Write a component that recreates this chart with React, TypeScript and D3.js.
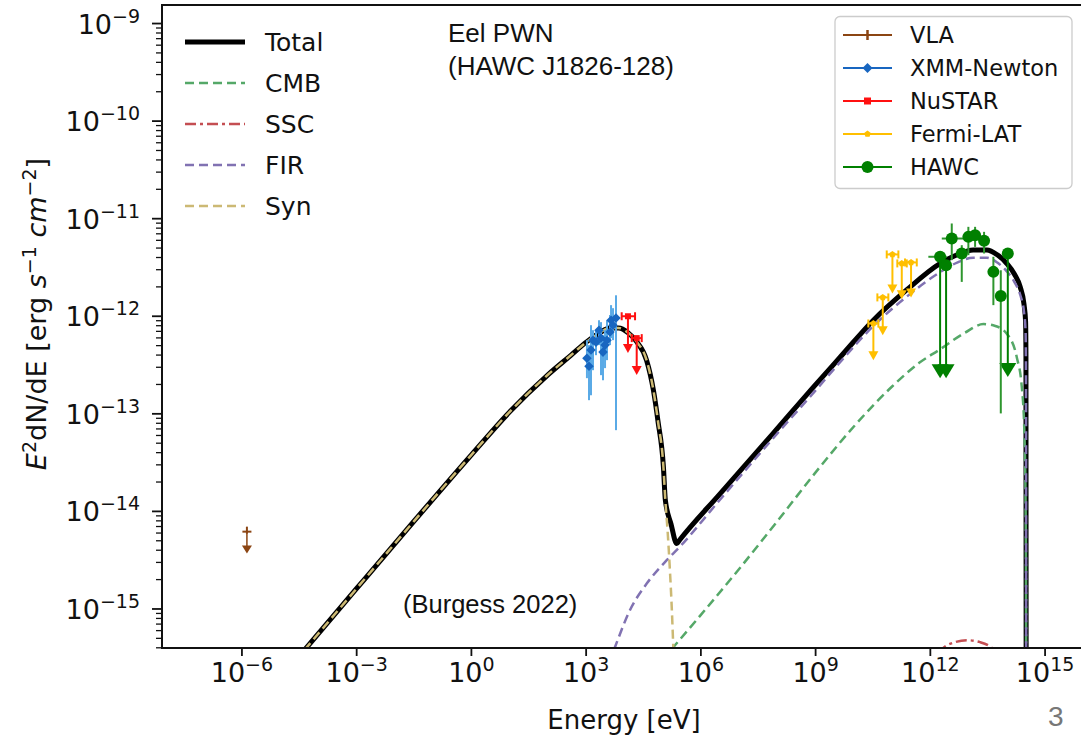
import * as d3 from "d3";

// model curves, as [log10 E (eV), log10 E²dN/dE]
const totalCurve: [number, number][] = [
  [-4.6, -15.53], [-3.0, -14.79], [-1.5, -14.1], [0.0, -13.42], [1.0, -12.98],
  [2.0, -12.6], [2.6, -12.4], [3.02, -12.26], [3.35, -12.17], [3.62, -12.12],
  [3.85, -12.12], [4.1, -12.17], [4.32, -12.26], [4.58, -12.45], [4.76, -12.76],
  [4.88, -13.08], [5.02, -13.54], [5.07, -13.88], [5.22, -14.13], [5.37, -14.33],
  [5.45, -14.29], [6.5, -13.82], [7.89, -13.2], [9.0, -12.7], [9.64, -12.42],
  [10.51, -12.04], [11.38, -11.73], [12.25, -11.46], [12.7, -11.37], [13.12, -11.32],
  [13.48, -11.32], [13.75, -11.37], [14.0, -11.46], [14.2, -11.57], [14.35, -11.7],
  [14.45, -11.88], [14.49, -12.05], [14.5, -12.4], [14.505, -15.6],
];
const synCurve: [number, number][] = [
  [-4.6, -15.53], [-3.0, -14.79], [-1.5, -14.1], [0.0, -13.42], [1.0, -12.98],
  [2.0, -12.6], [2.6, -12.4], [3.02, -12.26], [3.35, -12.17], [3.62, -12.12],
  [3.85, -12.12], [4.1, -12.17], [4.32, -12.26], [4.58, -12.45], [4.76, -12.76],
  [4.88, -13.08], [5.02, -13.54], [5.07, -13.88], [5.13, -14.2], [5.19, -14.6],
  [5.24, -15.0], [5.28, -15.4], [5.3, -15.6],
];
const cmbCurve: [number, number][] = [
  [5.0, -15.52], [6.0, -15.06], [7.0, -14.59], [8.0, -14.1], [9.0, -13.6],
  [10.0, -13.13], [11.0, -12.72], [11.7, -12.48], [12.25, -12.34], [12.9, -12.17],
  [13.39, -12.08], [13.7, -12.1], [14.0, -12.18], [14.26, -12.42], [14.39, -12.72],
  [14.46, -13.2], [14.49, -13.9], [14.5, -14.5], [14.505, -15.6],
];
const firCurve: [number, number][] = [
  [3.6, -15.55], [3.755, -15.39], [4.148, -15.01], [4.584, -14.74], [5.107, -14.5],
  [5.455, -14.36], [6.5, -13.88], [7.89, -13.25], [9.0, -12.76], [9.64, -12.47],
  [10.51, -12.1], [11.38, -11.8], [12.25, -11.55], [12.7, -11.45], [13.12, -11.4],
  [13.48, -11.4], [13.75, -11.45], [14.0, -11.54], [14.2, -11.65], [14.35, -11.78],
  [14.45, -11.96], [14.49, -12.15], [14.5, -12.5], [14.505, -15.6],
];
const sscCurve: [number, number][] = [
  [12.2, -15.46], [12.34, -15.4], [12.65, -15.34], [12.95, -15.32], [13.3, -15.34],
  [13.61, -15.4], [13.75, -15.46],
];

// data points (eV, erg s^-1 cm^-2)
const vlaE = [1.35e-6];
const vlaF = [6.2e-15];
const vlaTip = [3.7e-15];

const xmmE = [1.05e3, 1.19e3, 1.34e3, 1.51e3, 1.81e3, 2.17e3, 2.45e3, 2.76e3, 3.12e3, 3.51e3, 4.21e3, 4.48e3, 5.05e3, 6.04e3];
const xmmF = [3.72e-13, 3.08e-13, 4.5e-13, 5.69e-13, 5.43e-13, 7.2e-13, 5.97e-13, 4.29e-13, 5.06e-13, 5.69e-13, 6.9e-13, 9.1e-13, 8.1e-13, 9.6e-13];
const xmmHi = [5.69e-13, 5.06e-13, 8.1e-13, 7.2e-13, 7.2e-13, 9.1e-13, 8.7e-13, 6.4e-13, 7.2e-13, 9.1e-13, 1.03e-12, 1.3e-12, 1.21e-12, 1.64e-12];
const xmmLo = [2.32e-13, 1.38e-13, 1.55e-13, 2.8e-13, 3.99e-13, 5.06e-13, 2.49e-13, 2.21e-13, 2.94e-13, 3.55e-13, 5.06e-13, 5.97e-13, 5.69e-13, 6.8e-14];

const nuE = [1.24e4, 2.1e4];
const nuElo = [8.5e3, 1.56e4];
const nuEhi = [1.9e4, 2.84e4];
const nuF = [1.0e-12, 5.97e-13];
const nuTip = [4.2e-13, 2.5e-13];

const fermiE = [3.24e10, 5.7e10, 1.02e11, 1.79e11, 3.13e11];
const fermiElo = [2.39e10, 4.12e10, 7.24e10, 1.37e11, 2.18e11];
const fermiEhi = [4.38e10, 7.98e10, 1.46e11, 2.42e11, 4.42e11];
const fermiF = [8.43e-13, 1.56e-12, 4.3e-12, 3.48e-12, 3.56e-12];
const fermiTip = [3.55e-13, 6.39e-13, 1.71e-12, 1.49e-12, 1.56e-12];

const hawcE = [3.63e12, 6.63e12, 9.87e12, 1.48e13, 2.54e13, 4.45e13, 6.95e13];
const hawcElo = [1.99e12, 6.63e12, 9.87e12, 1.48e13, 2.54e13, 4.45e13, 6.95e13];
const hawcEhi = [7.31e12, 6.63e12, 9.87e12, 1.48e13, 2.54e13, 4.45e13, 6.95e13];
const hawcF = [6.26e-12, 4.4e-12, 6.51e-12, 6.78e-12, 5.93e-12, 2.85e-12, 1.61e-12];
const hawcHi = [8.93e-12, 5.35e-12, 8.25e-12, 8.25e-12, 7.33e-12, 4.07e-12, 2.96e-12];
const hawcLo = [3.76e-12, 2.25e-12, 4.23e-12, 5.14e-12, 4.4e-12, 1.3e-12, 1.01e-13];
const hawcUlE = [1.8e12, 2.58e12, 1.06e14];
const hawcUlElo = [8.87e11, 2.58e12, 1.06e14];
const hawcUlEhi = [2.69e12, 2.58e12, 1.06e14];
const hawcUlF = [4.07e-12, 3.34e-12, 4.4e-12];
const hawcUlTip = [2.32e-13, 2.32e-13, 2.39e-13];

const xMajorExp = [-6, -3, 0, 3, 6, 9, 12, 15];

const modelLegend = [
  { name: "Total", color: "#000", dash: "", width: 5 },
  { name: "CMB", color: "#55A868", dash: "9,5", width: 2.5 },
  { name: "SSC", color: "#C44E52", dash: "11,4,3,4", width: 2.5 },
  { name: "FIR", color: "#8172B2", dash: "9,5", width: 2.5 },
  { name: "Syn", color: "#CCB974", dash: "9,5", width: 2.5 },
];
const dataLegend = [
  { name: "VLA", color: "#8B4513", marker: "bar" },
  { name: "XMM-Newton", color: "#1866c0", marker: "diamond" },
  { name: "NuSTAR", color: "#ff1010", marker: "square" },
  { name: "Fermi-LAT", color: "#ffbf00", marker: "pentagon" },
  { name: "HAWC", color: "#008000", marker: "circle" },
];

const W = 1081;
const H = 739;
const X0 = 162, X1 = 1086, Y0 = 5, Y1 = 648;
const FONT = "DejaVu Sans";
const ARIAL = "Liberation Sans, Arial";

const x = d3.scaleLog().domain([10 ** -8.09, 10 ** 16.07]).range([X0, X1]);
const y = d3.scaleLog().domain([10 ** -15.4, 10 ** -8.81]).range([Y1, Y0]);

const curve = d3
  .line<[number, number]>()
  .x((d) => x(10 ** d[0]))
  .y((d) => y(10 ** d[1]))
  .curve(d3.curveMonotoneX);

const sup = (e: number) => (e < 0 ? `\u2212${-e}` : `${e}`);

function markerPath(kind: string, s: number) {
  if (kind === "circle") return d3.symbol(d3.symbolCircle, Math.PI * s * s)();
  if (kind === "square") return d3.symbol(d3.symbolSquare, s * s * 4)();
  if (kind === "diamond") return d3.symbol(d3.symbolDiamond2, s * s * 4)();
  if (kind === "pentagon") {
    const pts = d3.range(5).map((i) => {
      const a = -Math.PI / 2 + (i * 2 * Math.PI) / 5;
      return [s * Math.cos(a), s * Math.sin(a)] as [number, number];
    });
    return "M" + pts.map((p) => p.join(",")).join("L") + "Z";
  }
  return "";
}

function Marker({ kind, cx, cy, s, color }: any) {
  return <path transform={`translate(${cx},${cy})`} d={markerPath(kind, s)} fill={color} />;
}

function Arrow({ cx, yTop, yTip, color, w, h, sw }: any) {
  return (
    <g>
      <line x1={cx} x2={cx} y1={yTop} y2={yTip - h + 1} stroke={color} strokeWidth={sw} />
      <path d={`M${cx - w / 2},${yTip - h}L${cx + w / 2},${yTip - h}L${cx},${yTip}Z`} fill={color} />
    </g>
  );
}

function HBar({ x1, x2, yy, color, cap, sw }: any) {
  return (
    <g stroke={color} strokeWidth={sw}>
      <line x1={x1} x2={x2} y1={yy} y2={yy} />
      {cap > 0 && <line x1={x1} x2={x1} y1={yy - cap} y2={yy + cap} />}
      {cap > 0 && <line x1={x2} x2={x2} y1={yy - cap} y2={yy + cap} />}
    </g>
  );
}

export default function App() {
  const yTicks = y.ticks();
  const yMajor = yTicks.filter((v) => Math.abs(Math.log10(v) - Math.round(Math.log10(v))) < 1e-9);
  const yMinor = yTicks.filter((v) => !yMajor.includes(v));

  return (
    <svg width={W} height={H} style={{ position: "absolute", left: 0, top: 0, background: "#fff" }} fontFamily={FONT}>
      <defs>
        <clipPath id="plot">
          <rect x={X0} y={Y0} width={X1 - X0} height={Y1 - Y0} />
        </clipPath>
      </defs>

      {/* model curves */}
      <g clipPath="url(#plot)" fill="none">
        <path d={curve(totalCurve) || ""} stroke="#000" strokeWidth={5} strokeLinejoin="round" />
        <path d={curve(cmbCurve) || ""} stroke="#55A868" strokeWidth={2.5} strokeDasharray="9,5" />
        <path d={curve(sscCurve) || ""} stroke="#C44E52" strokeWidth={2.5} strokeDasharray="11,4,3,4" />
        <path d={curve(firCurve) || ""} stroke="#8172B2" strokeWidth={2.5} strokeDasharray="9,5" />
        <path d={curve(synCurve) || ""} stroke="#CCB974" strokeWidth={2.5} strokeDasharray="9,5" />
      </g>

      {/* VLA */}
      {vlaE.map((e, i) => (
        <g key={"vla" + i}>
          <line x1={x(e)} x2={x(e)} y1={y(vlaF[i]) - 5} y2={y(vlaF[i]) + 2} stroke="#8B4513" strokeWidth={2} />
          <HBar x1={x(e) - 4.5} x2={x(e) + 4.5} yy={y(vlaF[i])} color="#8B4513" cap={0} sw={2} />
          <Arrow cx={x(e)} yTop={y(vlaF[i])} yTip={y(vlaTip[i])} color="#8B4513" w={10} h={8} sw={1.5} />
        </g>
      ))}

      {/* XMM-Newton */}
      {xmmE.map((e, i) => (
        <line key={"xe" + i} x1={x(e)} x2={x(e)} y1={y(xmmHi[i])} y2={y(xmmLo[i])} stroke="#5aaae6" strokeWidth={2} />
      ))}
      {xmmE.map((e, i) => (
        <Marker key={"xm" + i} kind="diamond" cx={x(e)} cy={y(xmmF[i])} s={3.8} color="#1866c0" />
      ))}

      {/* NuSTAR */}
      {nuE.map((e, i) => (
        <g key={"nu" + i}>
          <HBar x1={x(nuElo[i])} x2={x(nuEhi[i])} yy={y(nuF[i])} color="#ff1010" cap={4} sw={2} />
          <Arrow cx={x(e)} yTop={y(nuF[i])} yTip={y(nuTip[i])} color="#ff1010" w={10} h={9} sw={2} />
          <Marker kind="square" cx={x(e)} cy={y(nuF[i])} s={3} color="#ff1010" />
        </g>
      ))}

      {/* Fermi-LAT */}
      {fermiE.map((e, i) => (
        <g key={"fe" + i}>
          <HBar x1={x(fermiElo[i])} x2={x(fermiEhi[i])} yy={y(fermiF[i])} color="#ffbf00" cap={4} sw={2} />
          <Arrow cx={x(e)} yTop={y(fermiF[i])} yTip={y(fermiTip[i])} color="#ffbf00" w={10} h={9} sw={2} />
          <Marker kind="pentagon" cx={x(e)} cy={y(fermiF[i])} s={3.5} color="#ffbf00" />
        </g>
      ))}

      {/* HAWC */}
      {hawcUlE.map((e, i) => (
        <g key={"hu" + i}>
          <HBar x1={x(hawcUlElo[i])} x2={x(hawcUlEhi[i])} yy={y(hawcUlF[i])} color="#2e962e" cap={0} sw={2} />
          <Arrow cx={x(e)} yTop={y(hawcUlF[i])} yTip={y(hawcUlTip[i])} color="#008000" w={17} h={14} sw={2} />
          <Marker kind="circle" cx={x(e)} cy={y(hawcUlF[i])} s={6} color="#008000" />
        </g>
      ))}
      {hawcE.map((e, i) => (
        <g key={"hw" + i}>
          <HBar x1={x(hawcElo[i])} x2={x(hawcEhi[i])} yy={y(hawcF[i])} color="#2e962e" cap={0} sw={2} />
          <line x1={x(e)} x2={x(e)} y1={y(hawcHi[i])} y2={y(hawcLo[i])} stroke="#2e962e" strokeWidth={2} />
          <Marker kind="circle" cx={x(e)} cy={y(hawcF[i])} s={6} color="#008000" />
        </g>
      ))}

      {/* frame */}
      <rect x={X0} y={Y0} width={X1 - X0} height={Y1 - Y0} fill="none" stroke="#111" strokeWidth={2} />

      {/* y axis ticks */}
      {yMajor.map((v) => (
        <g key={"ym" + v}>
          <line x1={X0 - 10} x2={X0} y1={y(v)} y2={y(v)} stroke="#111" strokeWidth={1.8} />
          <text x={140} y={y(v) + 10} textAnchor="end" fontSize={27} fill="#111">
            10
            <tspan dy={-11} fontSize={19}>{sup(Math.round(Math.log10(v)))}</tspan>
          </text>
        </g>
      ))}
      {yMinor.map((v) => (
        <line key={"yn" + v} x1={X0 - 6} x2={X0} y1={y(v)} y2={y(v)} stroke="#111" strokeWidth={1.3} />
      ))}

      {/* x axis ticks */}
      {xMajorExp.map((k) => (
        <g key={"xm" + k}>
          <line x1={x(10 ** k)} x2={x(10 ** k)} y1={Y1} y2={Y1 + 8} stroke="#111" strokeWidth={1.8} />
          <text x={x(10 ** k)} y={682} textAnchor="middle" fontSize={27} fill="#111">
            10
            <tspan dy={-11} fontSize={19}>{sup(k)}</tspan>
          </text>
        </g>
      ))}

      {/* axis labels */}
      <text x={(X0 + X1) / 2} y={729} textAnchor="middle" fontSize={26} fill="#111">
        Energy [eV]
      </text>
      <text transform="translate(46,314) rotate(-90)" textAnchor="middle" fontSize={27} fill="#111" style={{ whiteSpace: "pre" }}>
        <tspan fontStyle="italic">E</tspan>
        <tspan dy={-10} fontSize={19}>2</tspan>
        <tspan dy={10}>dN/dE [erg </tspan>
        <tspan fontStyle="italic">s</tspan>
        <tspan dy={-10} fontSize={19}>{"\u22121"}</tspan>
        <tspan dy={10}> </tspan>
        <tspan fontStyle="italic">cm</tspan>
        <tspan dy={-10} fontSize={19}>{"\u22122"}</tspan>
        <tspan dy={10}>]</tspan>
      </text>

      {/* model legend */}
      {modelLegend.map((m, i) => (
        <g key={m.name} transform={`translate(0,${42 + i * 41})`}>
          <line x1={185} x2={245} y1={0} y2={0} stroke={m.color} strokeWidth={m.width} strokeDasharray={m.dash} />
          <text x={265} y={9} fontSize={25} fill="#111">{m.name}</text>
        </g>
      ))}

      {/* data legend */}
      <rect x={835} y={16.5} width={237} height={172} rx={5} fill="#fff" fillOpacity={0.8} stroke="#cccccc" strokeWidth={1.3} />
      {dataLegend.map((d, i) => {
        const cy = 35 + i * 33;
        return (
          <g key={d.name}>
            <line x1={843} x2={892} y1={cy} y2={cy} stroke={d.color} strokeWidth={2} />
            {d.marker === "bar" ? (
              <line x1={867.5} x2={867.5} y1={cy - 5} y2={cy + 5} stroke={d.color} strokeWidth={2.5} />
            ) : (
              <Marker kind={d.marker} cx={867.5} cy={cy} s={d.marker === "circle" ? 6 : d.marker === "diamond" ? 4 : 3.5} color={d.color} />
            )}
            <text x={910} y={cy + 8} fontSize={22.5} fill="#111">{d.name}</text>
          </g>
        );
      })}

      {/* annotations */}
      <text x={448} y={42} fontFamily={ARIAL} fontSize={26} fill="#111">Eel PWN</text>
      <text x={448} y={75} fontFamily={ARIAL} fontSize={26} fill="#111">(HAWC J1826-128)</text>
      <text x={403} y={613} fontFamily={ARIAL} fontSize={25.5} fill="#111">(Burgess 2022)</text>
      <text x={1048} y={726} fontFamily={ARIAL} fontSize={28} fill="#777">3</text>
    </svg>
  );
}
